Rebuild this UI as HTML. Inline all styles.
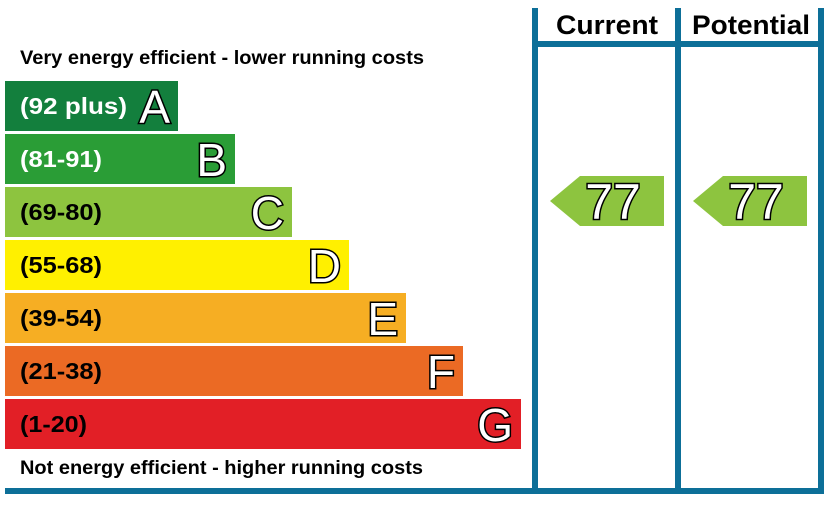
<!DOCTYPE html>
<html><head><meta charset="utf-8"><style>
html,body{margin:0;padding:0;background:#fff;}
svg{display:block;}
text{font-family:"Liberation Sans",Arial,sans-serif;}
.l{font-weight:bold;font-size:23px;}
.big{font-size:46px;fill:#fff;stroke:#000;stroke-width:3;paint-order:stroke;}
</style></head><body>
<svg width="837" height="507" viewBox="0 0 837 507">
<rect width="837" height="507" fill="#fff"/>
<rect x="532" y="8" width="6" height="486" fill="#0d6f98"/>
<rect x="675" y="8" width="6" height="486" fill="#0d6f98"/>
<rect x="818" y="8" width="6" height="486" fill="#0d6f98"/>
<rect x="532" y="41" width="292" height="6" fill="#0d6f98"/>
<rect x="5" y="488" width="819" height="6" fill="#0d6f98"/>
<text x="607" y="34" text-anchor="middle" font-weight="bold" font-size="27" textLength="102" lengthAdjust="spacingAndGlyphs">Current</text>
<text x="751" y="34" text-anchor="middle" font-weight="bold" font-size="27" textLength="118" lengthAdjust="spacingAndGlyphs">Potential</text>
<text x="20" y="64" font-weight="bold" font-size="19" textLength="404" lengthAdjust="spacingAndGlyphs">Very energy efficient - lower running costs</text>
<text x="20" y="474" font-weight="bold" font-size="19" textLength="403" lengthAdjust="spacingAndGlyphs">Not energy efficient - higher running costs</text>
<rect x="5" y="81" width="173" height="50" fill="#137f3d"/>
<rect x="5" y="134" width="230" height="50" fill="#2a9d36"/>
<rect x="5" y="187" width="287" height="50" fill="#8dc43f"/>
<rect x="5" y="240" width="344" height="50" fill="#fff000"/>
<rect x="5" y="293" width="401" height="50" fill="#f6ae23"/>
<rect x="5" y="346" width="458" height="50" fill="#eb6a24"/>
<rect x="5" y="399" width="516" height="50" fill="#e21f26"/>
<text class="l" x="20" y="114" fill="#fff" textLength="107" lengthAdjust="spacingAndGlyphs">(92 plus)</text>
<text class="l" x="20" y="167" fill="#fff" textLength="82" lengthAdjust="spacingAndGlyphs">(81-91)</text>
<text class="l" x="20" y="220" fill="#000" textLength="82" lengthAdjust="spacingAndGlyphs">(69-80)</text>
<text class="l" x="20" y="273" fill="#000" textLength="82" lengthAdjust="spacingAndGlyphs">(55-68)</text>
<text class="l" x="20" y="326" fill="#000" textLength="82" lengthAdjust="spacingAndGlyphs">(39-54)</text>
<text class="l" x="20" y="379" fill="#000" textLength="82" lengthAdjust="spacingAndGlyphs">(21-38)</text>
<text class="l" x="20" y="432" fill="#000" textLength="67" lengthAdjust="spacingAndGlyphs">(1-20)</text>
<text class="big" x="170" y="123" text-anchor="end">A</text>
<text class="big" x="227" y="176" text-anchor="end">B</text>
<text class="big" x="284" y="229" text-anchor="end">C</text>
<text class="big" x="341" y="282" text-anchor="end">D</text>
<text class="big" x="398" y="335" text-anchor="end">E</text>
<text class="big" x="455" y="388" text-anchor="end">F</text>
<text class="big" x="513" y="441" text-anchor="end">G</text>
<polygon points="550,201 580,176 664,176 664,226 580,226" fill="#8dc43f"/>
<polygon points="693,201 723,176 807,176 807,226 723,226" fill="#8dc43f"/>
<text class="big" x="613" y="219" text-anchor="middle" style="font-size:50px">77</text>
<text class="big" x="756" y="219" text-anchor="middle" style="font-size:50px">77</text>
</svg>
</body></html>
